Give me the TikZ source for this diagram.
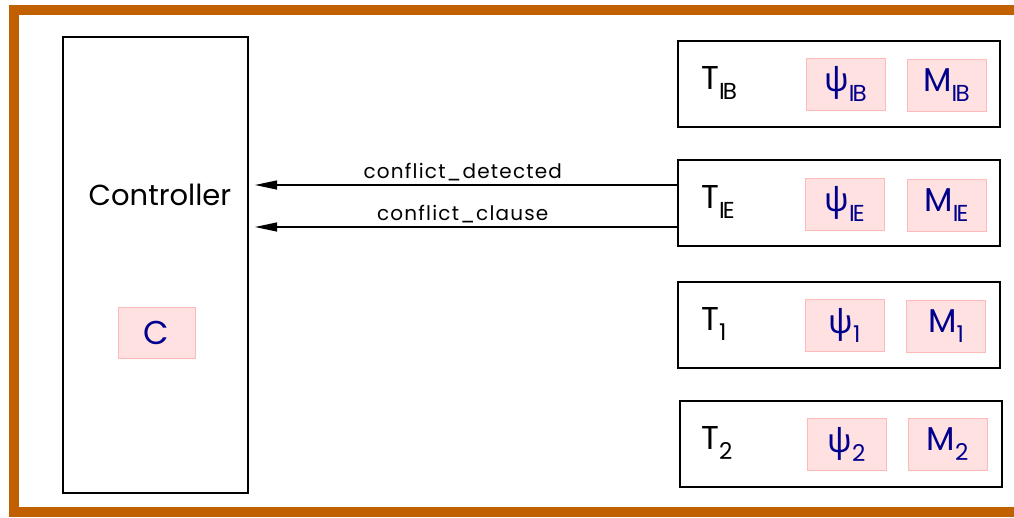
\documentclass[tikz,border=0pt]{standalone}
\usepackage{fontspec}
\setmainfont{Poppins}
\newfontfamily\grk{Noto Sans}
\newfontfamily\msgfont[LetterSpace=6]{Poppins}
\usetikzlibrary{arrows.meta}
\definecolor{frameorange}{RGB}{192,96,0}
\definecolor{cellfill}{RGB}{255,225,225}
\definecolor{celldraw}{RGB}{255,185,185}
\definecolor{navy}{RGB}{0,0,140}
\newcommand{\lowsub}[1]{\raisebox{-0.3em}{\scalebox{0.7}{#1}}}
\newcommand{\IB}{I\kern-0.08em B}
\newcommand{\IE}{I\kern-0.08em E}
\begin{document}
\begin{tikzpicture}[x=1pt,y=-1pt,
  box/.style={draw=black, line width=2pt, inner sep=0pt},
  tbox/.style={box, minimum width=322pt, minimum height=86pt},
  cell/.style={fill=cellfill, draw=celldraw, line width=1pt, minimum width=79pt, minimum height=52pt, inner sep=0pt, text=navy, font=\fontsize{33}{35}\selectfont},
  tlabel/.style={anchor=west, inner sep=0pt, font=\fontsize{33}{35}\selectfont},
  arr/.style={line width=1.1pt, -{Triangle[length=22pt,width=9pt]}, shorten >=6pt},
  msg/.style={font=\msgfont\fontsize{20}{22}\selectfont, above, inner sep=4pt}]
\useasboundingbox (0,0) rectangle (1014,517);
\draw[frameorange, line width=10pt] (14,10) rectangle (1040,512);

\node[box, minimum width=185pt, minimum height=456pt] (ctrl) at (155.5,265) {};
\node[font=\fontsize{29}{31}\selectfont] (ctrltext) at (160,195) {Controller};
\node[cell, minimum width=77pt, minimum height=51pt] (cC) at (156.5,332.5) {C};

\node[tbox] (tib) at (839,84) {};
\node[tbox] (tie) at (838.5,203) {};
\node[tbox] (t1) at (838.5,325) {};
\node[tbox] (t2) at (840.5,444) {};

\node[tlabel] (ltib) at (701,83) {T\lowsub{\IB}};
\node[tlabel] (ltie) at (701,202) {T\lowsub{\IE}};
\node[tlabel] (lt1) at (701,324) {T\lowsub{1}};
\node[tlabel] (lt2) at (701,443) {T\lowsub{2}};

\node[cell] (pib) at (845.5,84) {{\grk ψ}\lowsub{\IB}};
\node[cell] (mib) at (946.5,85) {M\lowsub{\IB}};
\node[cell] (pie) at (844.5,204) {{\grk ψ}\lowsub{\IE}};
\node[cell] (mie) at (946.5,205) {M\lowsub{\IE}};
\node[cell] (p1) at (844.5,325.5) {{\grk ψ}\lowsub{1}};
\node[cell] (m1) at (946,326.5) {M\lowsub{1}};
\node[cell] (p2) at (846.5,444.5) {{\grk ψ}\lowsub{2}};
\node[cell] (m2) at (947.5,444.5) {M\lowsub{2}};

\draw[arr] ([yshift=18pt]tie.west) -- ([yshift=18pt]tie.west -| ctrl.east) node[msg, midway] {conflict\_detected};
\draw[arr] ([yshift=-24pt]tie.west) -- ([yshift=-24pt]tie.west -| ctrl.east) node[msg, midway] {conflict\_clause};
\end{tikzpicture}
\end{document}
